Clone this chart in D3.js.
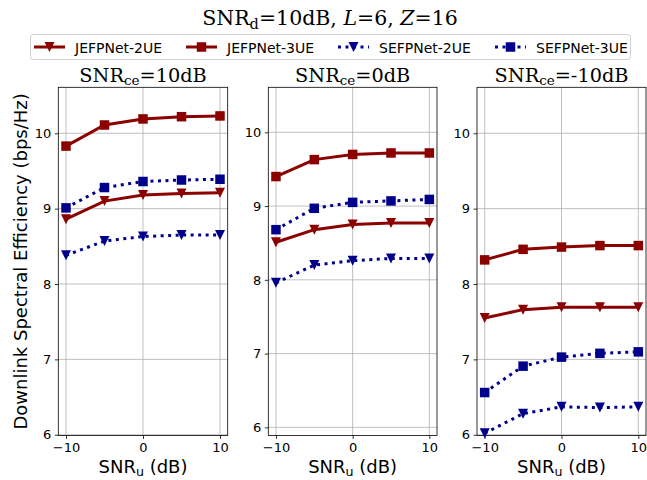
<!DOCTYPE html>
<html><head><meta charset="utf-8">
<script src="https://cdn.jsdelivr.net/npm/d3@7"></script>
<style>body{margin:0;background:#fff}</style></head>
<body>
<svg id="c" width="647" height="480"></svg>
<script>
// ---- data ----
const snru = [-10, -5, 0, 5, 10];
const xTicks = [-10, 0, 10];
const yTicks = [6, 7, 8, 9, 10];
const snrce = ["10dB", "0dB", "-10dB"];
const seriesNames = ["JEFPNet-2UE", "JEFPNet-3UE", "SEFPNet-2UE", "SEFPNet-3UE"];
// values per panel (SNR_ce = 10, 0, -10 dB)
const jefp2 = [[8.86, 9.10, 9.18, 9.20, 9.21], [8.51, 8.68, 8.75, 8.77, 8.77], [7.55, 7.66, 7.69, 7.69, 7.69]];
const jefp3 = [[9.83, 10.11, 10.19, 10.22, 10.23], [9.40, 9.63, 9.70, 9.72, 9.72], [8.32, 8.46, 8.49, 8.51, 8.51]];
const sefp2 = [[8.38, 8.57, 8.63, 8.65, 8.65], [7.96, 8.20, 8.26, 8.29, 8.29], [6.02, 6.28, 6.37, 6.36, 6.37]];
const sefp3 = [[9.01, 9.28, 9.36, 9.38, 9.39], [8.68, 8.97, 9.05, 9.07, 9.09], [6.56, 6.91, 7.03, 7.08, 7.10]];

// ---- layout / style ----
const RED = "#8b0000", BLUE = "#00008b";
const styles = [
  {data: jefp2, color: RED, marker: "tri", dash: null},
  {data: jefp3, color: RED, marker: "sq", dash: null},
  {data: sefp2, color: BLUE, marker: "tri", dash: "3,4.5"},
  {data: sefp3, color: BLUE, marker: "sq", dash: "3,4.5"}
];
const panels = [
  {x0: 58.3, x1: 227.7, ylo: 5.99},
  {x0: 268.3, x1: 437, ylo: 5.89},
  {x0: 477, x1: 646, ylo: 5.99}
];
const plotTop = 87.3, plotBottom = 435.5, yhi = 10.61;
const SANS = "DejaVu Sans, sans-serif", SERIF = "DejaVu Serif, serif";

const svg = d3.select("#c");

function markerPath(type, s) {
  const h = s / 2;
  if (type === "sq") return `M${-h},${-h}H${h}V${h}H${-h}Z`;
  return `M${-h},${-h}L${h},${-h}L0,${h}Z`;
}

// title
const t = svg.append("text").attr("x", 330).attr("y", 25).attr("text-anchor", "middle")
  .attr("font-family", SERIF).attr("font-size", 20.5).attr("fill", "#000");
t.append("tspan").text("SNR");
t.append("tspan").attr("font-size", 14.5).attr("dy", 4).text("d");
t.append("tspan").attr("dy", -4).text("=10dB, ");
t.append("tspan").attr("font-style", "italic").text("L");
t.append("tspan").text("=6, ");
t.append("tspan").attr("font-style", "italic").text("Z");
t.append("tspan").text("=16");

// legend
svg.append("rect").attr("x", 30.5).attr("y", 34.5).attr("width", 600).attr("height", 25)
  .attr("rx", 3).attr("fill", "#fff").attr("stroke", "#d0d0d0").attr("stroke-width", 1);
const legX = [34, 186, 338, 495];
seriesNames.forEach((name, i) => {
  const st = styles[i];
  const g = svg.append("g").attr("transform", `translate(${legX[i]},47)`);
  g.append("line").attr("x1", 0).attr("x2", 31).attr("y1", 0).attr("y2", 0)
    .attr("stroke", st.color).attr("stroke-width", 3).attr("stroke-dasharray", st.dash);
  g.append("path").attr("d", markerPath(st.marker, st.marker === "sq" ? 9.5 : 10))
    .attr("transform", "translate(15.5,0)").attr("fill", st.color);
  g.append("text").attr("x", 41).attr("y", 5.5).attr("font-family", SANS).attr("font-size", 14)
    .attr("fill", "#000").text(name);
});

// panels
panels.forEach((p, k) => {
  const x = d3.scaleLinear().domain([-11, 11]).range([p.x0, p.x1]);
  const y = d3.scaleLinear().domain([p.ylo, yhi]).range([plotBottom, plotTop]);
  const g = svg.append("g");
  // grid
  g.selectAll(".gx").data(xTicks).join("line")
    .attr("x1", d => x(d)).attr("x2", d => x(d)).attr("y1", plotTop).attr("y2", plotBottom)
    .attr("stroke", "#b0b0b0").attr("stroke-width", 0.8);
  g.selectAll(".gy").data(yTicks).join("line")
    .attr("x1", p.x0).attr("x2", p.x1).attr("y1", d => y(d)).attr("y2", d => y(d))
    .attr("stroke", "#b0b0b0").attr("stroke-width", 0.8);
  // axes
  const ax = g.append("g").attr("transform", `translate(0,${plotBottom})`)
    .call(d3.axisBottom(x).tickValues(xTicks).tickSize(3.5).tickPadding(3.5)
      .tickFormat(d => d < 0 ? "\u2212" + Math.abs(d) : d));
  const ay = g.append("g").attr("transform", `translate(${p.x0},0)`)
    .call(d3.axisLeft(y).tickValues(yTicks).tickSize(3.5).tickPadding(3.5).tickFormat(d3.format("d")));
  [ax, ay].forEach(a => {
    a.select(".domain").remove();
    a.selectAll("text").attr("font-family", SANS).attr("font-size", 13).attr("fill", "#000");
    a.selectAll("line").attr("stroke", "#000").attr("stroke-width", 0.8);
  });
  g.append("rect").attr("x", p.x0).attr("y", plotTop).attr("width", p.x1 - p.x0).attr("height", plotBottom - plotTop)
    .attr("fill", "none").attr("stroke", "#000").attr("stroke-width", 0.8);
  // series
  const line = d3.line().x((d, i) => x(snru[i])).y(d => y(d));
  styles.forEach(st => {
    const vals = st.data[k];
    g.append("path").attr("d", line(vals)).attr("fill", "none").attr("stroke", st.color)
      .attr("stroke-width", 3).attr("stroke-dasharray", st.dash);
    g.selectAll(null).data(vals).join("path")
      .attr("d", markerPath(st.marker, st.marker === "sq" ? 9.5 : 10))
      .attr("transform", (d, i) => `translate(${x(snru[i])},${y(d)})`)
      .attr("fill", st.color);
  });
  // subplot title
  const cx = (p.x0 + p.x1) / 2;
  const tt = svg.append("text").attr("x", cx).attr("y", 81.5).attr("text-anchor", "middle")
    .attr("font-family", SERIF).attr("font-size", 19.3).attr("fill", "#000");
  tt.append("tspan").text("SNR");
  tt.append("tspan").attr("font-size", 13.5).attr("dy", 3.8).text("ce");
  tt.append("tspan").attr("dy", -3.8).text("=" + snrce[k]);
  // x label
  const xl = svg.append("text").attr("x", cx).attr("y", 472.5).attr("text-anchor", "middle")
    .attr("font-family", SANS).attr("font-size", 18).attr("fill", "#000");
  xl.append("tspan").text("SNR");
  xl.append("tspan").attr("font-size", 12.6).attr("dy", 3.5).text("u");
  xl.append("tspan").attr("dy", -3.5).text(" (dB)");
});

// y label
svg.append("text").attr("transform", `translate(26.5,${(plotTop + plotBottom) / 2}) rotate(-90)`)
  .attr("text-anchor", "middle").attr("font-family", SANS).attr("font-size", 18).attr("fill", "#000")
  .text("Downlink Spectral Efficiency (bps/Hz)");
</script>
</body></html>
